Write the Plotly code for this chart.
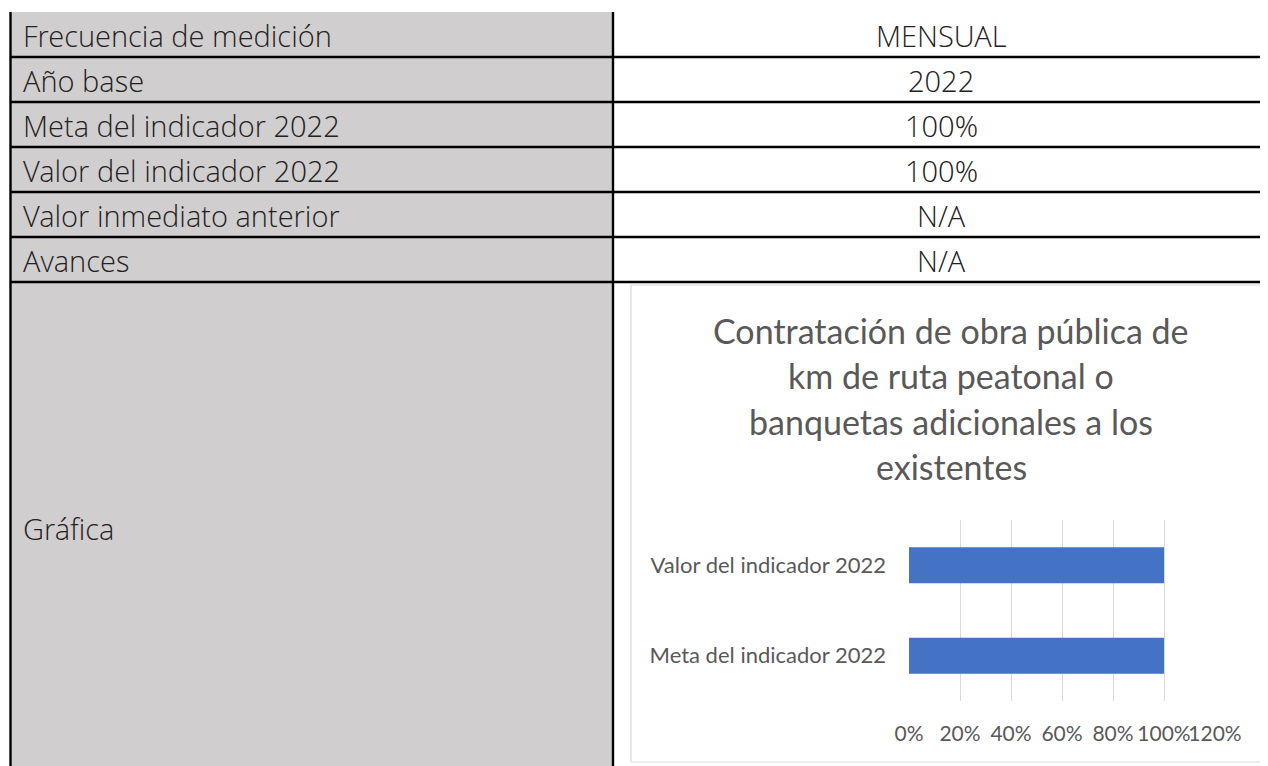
import plotly.graph_objects as go

# datos de la tabla
etiquetas = ['Frecuencia de medición', 'Año base', 'Meta del indicador 2022',
             'Valor del indicador 2022', 'Valor inmediato anterior', 'Avances']
valores = ['MENSUAL', '2022', '100%', '100%', 'N/A', 'N/A']
etiqueta_grafica = 'Gráfica'

# datos de la gráfica
titulo_lineas = ['Contratación de obra pública de', 'km de ruta peatonal o',
                 'banquetas adicionales a los', 'existentes']
categorias = ['Meta del indicador 2022', 'Valor del indicador 2022']
porcentajes = [1.0, 1.0]

W, H = 1268, 766
OFF = 8  # margen del body de la página


def fx(px):
    return (px - OFF) / W


def fy(py):
    return 1 - (py - OFF) / H


GRIS = '#D0CECE'
TXT = '#222222'
FONT_TABLA = 'Open Sans Light, Open Sans'
FONT_GRAF = 'Lato'

fig = go.Figure()

fig.add_trace(go.Bar(x=porcentajes, y=categorias, orientation='h',
                     marker=dict(color='#4472C4', line=dict(width=0)),
                     showlegend=False, hoverinfo='x+y'))

shapes = []
# fondo gris columna izquierda
shapes.append(dict(type='rect', xref='paper', yref='paper', layer='below',
                   x0=fx(10), x1=fx(613), y0=fy(12), y1=fy(H + 20),
                   fillcolor=GRIS, line=dict(width=0)))
# recuadro de la gráfica
shapes.append(dict(type='rect', xref='paper', yref='paper', layer='below',
                   x0=fx(631), x1=fx(W + 20), y0=fy(285), y1=fy(762),
                   fillcolor='white', line=dict(color='#D9D9D9', width=1.2)))
# líneas horizontales
row_y = [57, 102, 147, 192, 237, 282]
for yy in row_y:
    shapes.append(dict(type='line', xref='paper', yref='paper', layer='above',
                       x0=fx(10), x1=fx(W + 20), y0=fy(yy), y1=fy(yy),
                       line=dict(color='black', width=2.6)))
# líneas verticales
for xx in [10.5, 613]:
    shapes.append(dict(type='line', xref='paper', yref='paper', layer='above',
                       x0=fx(xx), x1=fx(xx), y0=fy(12), y1=fy(H + 20),
                       line=dict(color='black', width=2.4)))

annotations = []
centros = [34.5, 79.5, 124.5, 169.5, 214.5, 259.5]
for lab, val, cy in zip(etiquetas, valores, centros):
    annotations.append(dict(text=lab, x=fx(21), y=fy(cy + 1), xref='paper', yref='paper',
                            xanchor='left', yanchor='middle', showarrow=False,
                            font=dict(family=FONT_TABLA, size=29, color=TXT, weight=300)))
    annotations.append(dict(text=val, x=fx(941), y=fy(cy + 1), xref='paper', yref='paper',
                            xanchor='center', yanchor='middle', showarrow=False,
                            font=dict(family=FONT_TABLA, size=29, color=TXT, weight=300)))
annotations.append(dict(text=etiqueta_grafica, x=fx(21), y=fy(528), xref='paper', yref='paper',
                        xanchor='left', yanchor='middle', showarrow=False,
                        font=dict(family=FONT_TABLA, size=29, color=TXT, weight=300)))

for i, linea in enumerate(titulo_lineas):
    annotations.append(dict(text=linea, x=fx(951), y=fy(330.5 + i * 45.3), xref='paper', yref='paper',
                            xanchor='center', yanchor='middle', showarrow=False,
                            font=dict(family=FONT_GRAF, size=34, color='#595959')))

fig.update_layout(
    width=W, height=H,
    margin=dict(l=0, r=0, t=0, b=0, autoexpand=False),
    paper_bgcolor='white', plot_bgcolor='rgba(0,0,0,0)',
    shapes=shapes, annotations=annotations,
    bargap=0.6,
    xaxis=dict(domain=[fx(909), fx(1215)], range=[0, 1.2], dtick=0.2, tick0=0,
               tickformat='.0%', showgrid=True, gridcolor='#D9D9D9', gridwidth=1.3,
               zeroline=False, showline=False, ticks='', tickangle=0, ticklabelstandoff=18,
               tickfont=dict(family=FONT_GRAF, size=21, color='#595959'), fixedrange=True),
    yaxis=dict(domain=[fy(701), fy(520)], categoryorder='array', categoryarray=categorias,
               showgrid=False, zeroline=False, showline=False, ticks='', ticklabelstandoff=22,
               tickfont=dict(family=FONT_GRAF, size=22, color='#595959'), fixedrange=True),
)

fig.write_html('out.html')
